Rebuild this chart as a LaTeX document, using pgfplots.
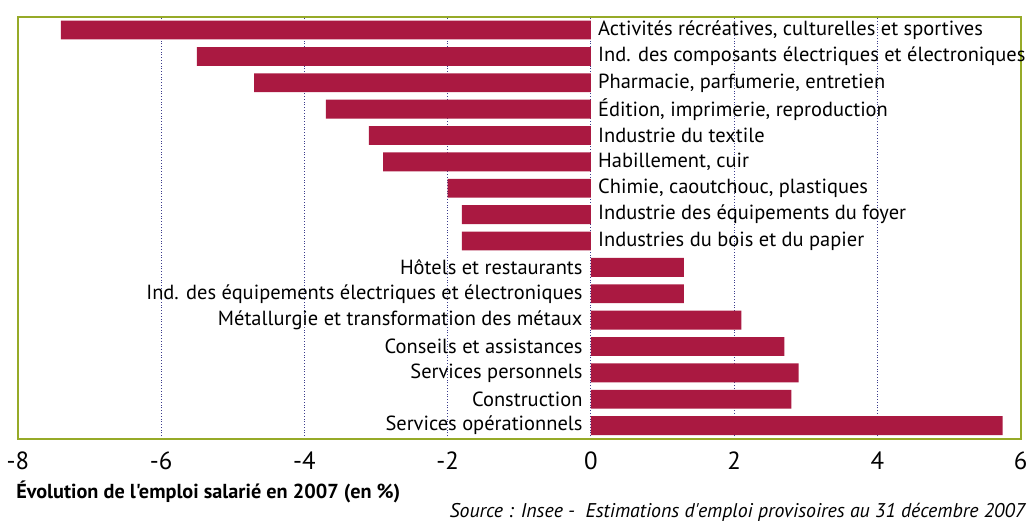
\documentclass[border=0pt]{standalone}
\usepackage{fontspec}
\setmainfont{PT Sans}[Ligatures=TeXOff]
\usepackage{pgfplots}
\pgfplotsset{compat=1.18}
\definecolor{barred}{RGB}{170,25,65}
\definecolor{boxgreen}{RGB}{150,170,40}
\definecolor{gridblue}{RGB}{60,60,140}
\begin{document}
\begin{tikzpicture}
\begin{axis}[
  scale only axis, width=505pt, height=212.5pt,
  xmin=-8, xmax=6, ymin=0.5, ymax=16.5,
  xbar, bar width=9.5pt,
  axis line style={boxgreen, line width=0.9pt},
  xtick={-8,-6,-4,-2,0,2,4,6},
  xticklabels={-8,-6,-4,-2,0,2,4,6},
  ytick=\empty,
  major tick length=0pt,
  xmajorgrids, grid style={gridblue, densely dotted, line width=0.5pt},
  xticklabel style={font=\fontsize{12.5}{13}\selectfont, yshift=-3pt},
  clip=false,
]
\addplot[fill=barred, draw=none] coordinates {
 (-7.4,16) (-5.5,15) (-4.7,14) (-3.7,13) (-3.1,12) (-2.9,11) (-2.0,10) (-1.8,9) (-1.8,8)
 (1.3,7) (1.3,6) (2.1,5) (2.7,4) (2.9,3) (2.8,2) (5.75,1)
};
\begin{scope}[every node/.style={font=\fontsize{10.3}{11}\selectfont, inner sep=0pt}]
\node[anchor=west, xshift=3.5pt] at (axis cs:0,16) {Activités récréatives, culturelles et sportives};
\node[anchor=west, xshift=3.5pt] at (axis cs:0,15) {Ind. des composants électriques et électroniques};
\node[anchor=west, xshift=3.5pt] at (axis cs:0,14) {Pharmacie, parfumerie, entretien};
\node[anchor=west, xshift=3.5pt] at (axis cs:0,13) {Édition, imprimerie, reproduction};
\node[anchor=west, xshift=3.5pt] at (axis cs:0,12) {Industrie du textile};
\node[anchor=west, xshift=3.5pt] at (axis cs:0,11) {Habillement, cuir};
\node[anchor=west, xshift=3.5pt] at (axis cs:0,10) {Chimie, caoutchouc, plastiques};
\node[anchor=west, xshift=3.5pt] at (axis cs:0,9) {Industrie des équipements du foyer};
\node[anchor=west, xshift=3.5pt] at (axis cs:0,8) {Industries du bois et du papier};
\node[anchor=east, xshift=-4pt] at (axis cs:0,7) {Hôtels et restaurants};
\node[anchor=east, xshift=-4pt] at (axis cs:0,6) {Ind. des équipements électriques et électroniques};
\node[anchor=east, xshift=-4pt] at (axis cs:0,5) {Métallurgie et transformation des métaux};
\node[anchor=east, xshift=-4pt] at (axis cs:0,4) {Conseils et assistances};
\node[anchor=east, xshift=-4pt] at (axis cs:0,3) {Services personnels};
\node[anchor=east, xshift=-4pt] at (axis cs:0,2) {Construction};
\node[anchor=east, xshift=-4pt] at (axis cs:0,1) {Services opérationnels};
\end{scope}
\node[anchor=north west, inner sep=0pt, font=\bfseries\fontsize{10.2}{12}\selectfont] at ([xshift=-1pt,yshift=-21pt]rel axis cs:0,0) {Évolution de l'emploi salarié en 2007 (en \%)};
\node[anchor=east, inner sep=0pt, font=\itshape\fontsize{10}{11}\selectfont] at ([xshift=2.5pt,yshift=-37pt]rel axis cs:1,0) {Source : Insee -\ \ Estimations d'emploi provisoires au 31 décembre 2007};
\path ([xshift=-7.5pt,yshift=8.5pt]rel axis cs:0,1) coordinate (tl);
\path ([xshift=4.5pt,yshift=-40pt]rel axis cs:1,0) coordinate (br);
\end{axis}
\useasboundingbox (tl) rectangle (br);
\end{tikzpicture}
\end{document}
